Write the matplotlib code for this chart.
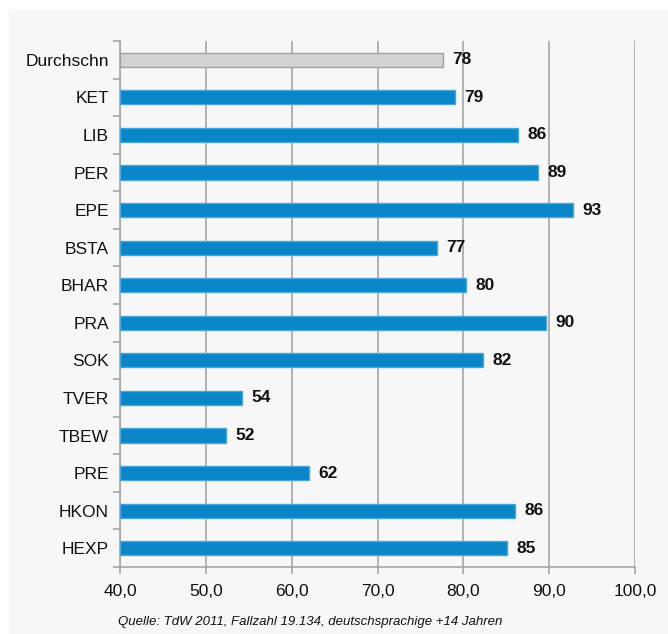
from __future__ import annotations

import matplotlib

matplotlib.use("Agg")

import matplotlib.pyplot as plt
from matplotlib.patches import Rectangle
from matplotlib.ticker import FixedLocator, FuncFormatter
import numpy as np

plt.rcParams["font.family"] = ["Liberation Sans", "DejaVu Sans"]

CATEGORIES = [
    "Durchschn", "KET", "LIB", "PER", "EPE", "BSTA", "BHAR",
    "PRA", "SOK", "TVER", "TBEW", "PRE", "HKON", "HEXP",
]
VALUES = [77.6, 79.0, 86.4, 88.7, 92.8, 76.9, 80.3,
          89.6, 82.3, 54.2, 52.3, 62.0, 86.0, 85.1]
X_TICKS = [40, 50, 60, 70, 80, 90, 100]
SOURCE = "Quelle: TdW 2011, Fallzahl 19.134, deutschsprachige +14 Jahren"

GRID = "#a6a6a6"
BLUE = "#0a86c8"


def main() -> None:
    fig = plt.figure(figsize=(6.68, 6.34), dpi=100, facecolor="white")
    # light panel behind the chart
    fig.patches.append(Rectangle((9 / 668, 0), 1, 1 - 10 / 634,
                                 transform=fig.transFigure,
                                 facecolor="#f7f7f7", edgecolor="none",
                                 zorder=-10))

    ax = fig.add_axes([120 / 668, 67 / 634, 515 / 668, 526 / 634])
    ax.set_facecolor("none")

    y = np.arange(len(CATEGORIES))
    colors = ["#d3d3d3"] + [BLUE] * (len(CATEGORIES) - 1)
    edges = ["#a0a0a0"] + ["#4aa6dc"] * (len(CATEGORIES) - 1)
    base = X_TICKS[0]
    widths = [v - base for v in VALUES]
    ax.barh(y, widths, left=base, height=0.38, color=colors,
            edgecolor=edges, linewidth=1.0, zorder=3)

    for yi, v in zip(y, VALUES):
        ax.text(v + 1.1, yi, f"{v:.0f}", va="center", ha="left",
                fontsize=12.5, fontweight="bold", color="#111111", zorder=4)

    ax.set_xlim(40, 100)
    ax.set_ylim(len(CATEGORIES) - 0.5, -0.5)

    ax.xaxis.set_major_locator(FixedLocator(X_TICKS))
    ax.xaxis.set_major_formatter(
        FuncFormatter(lambda x, _: f"{x:.1f}".replace(".", ",")))
    ax.set_yticks(y)
    ax.set_yticklabels(CATEGORIES)
    ax.yaxis.set_minor_locator(FixedLocator(np.arange(-0.5, len(CATEGORIES), 1.0)))

    ax.grid(axis="x", color=GRID, linewidth=1.2, zorder=0)
    ax.set_axisbelow(True)

    for side in ("top", "right"):
        ax.spines[side].set_visible(False)
    for side in ("left", "bottom"):
        ax.spines[side].set_color(GRID)
        ax.spines[side].set_linewidth(1.2)

    ax.tick_params(axis="y", which="major", length=0, pad=8,
                   labelsize=12.5, labelcolor="#111111")
    ax.tick_params(axis="y", which="minor", length=5, width=1.2,
                   color=GRID, direction="out")
    ax.tick_params(axis="x", which="major", length=5, width=1.2,
                   color=GRID, direction="out", pad=7,
                   labelsize=12.5, labelcolor="#111111")

    fig.text(310 / 668, 1 - 622 / 634, SOURCE, ha="center", va="center",
             fontsize=9.5, style="italic", color="#111111")

    fig.savefig("out.png", dpi=100, facecolor=fig.get_facecolor())
    plt.close(fig)


if __name__ == "__main__":
    main()
